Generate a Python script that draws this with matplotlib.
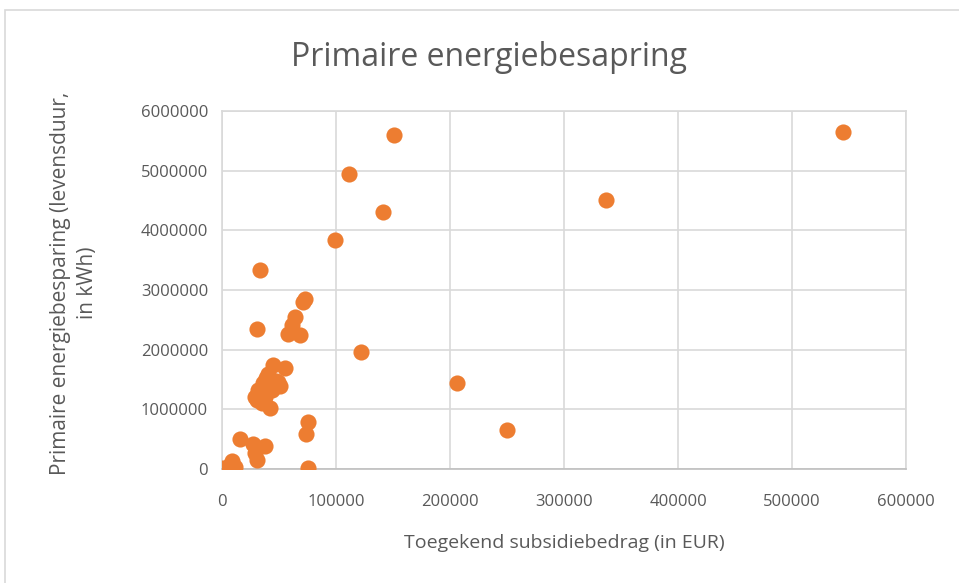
import matplotlib
matplotlib.use('Agg')
import matplotlib.pyplot as plt
from matplotlib.patches import Rectangle

# subsidy (EUR) vs lifetime primary energy saving (kWh)
subsidie = [545000, 151000, 111000, 337000, 141000, 99000, 33000, 73000, 71000,
            64000, 61000, 58000, 68000, 30500, 122000, 206000, 250000,
            45000, 55000, 40500, 49500, 36000, 43500, 32000, 30500, 35000,
            42000, 29000, 37500, 51000, 39000, 47000,
            16000, 27500, 37500, 29000, 30500, 8500, 1200, 7000, 11000,
            75500, 74000, 75500]
besparing = [5640000, 5600000, 4940000, 4510000, 4310000, 3840000, 3330000, 2850000, 2800000,
             2540000, 2410000, 2270000, 2250000, 2340000, 1960000, 1440000, 650000,
             1750000, 1700000, 1600000, 1460000, 1440000, 1320000, 1320000, 1160000, 1100000,
             1020000, 1210000, 1210000, 1390000, 1520000, 1480000,
             500000, 420000, 390000, 260000, 150000, 140000, 10000, 60000, 30000,
             780000, 580000, 10000]

xticks = [0, 100000, 200000, 300000, 400000, 500000, 600000]
yticks = [0, 1000000, 2000000, 3000000, 4000000, 5000000, 6000000]

plt.rcParams['font.family'] = ['Open Sans', 'DejaVu Sans']

fig = plt.figure(figsize=(9.59, 5.83), dpi=100)
fig.patches.append(Rectangle((5/959, -0.05), 1.0, (583-10)/583 + 0.05, transform=fig.transFigure,
                             fill=False, edgecolor='#d9d9d9', linewidth=1.2))

ax = fig.add_axes([222/959, 1-469/583, 684/959, 358/583])
ax.scatter(subsidie, besparing, s=135, color='#ed7d31', zorder=3, linewidths=0)

ax.set_xlim(0, 600000)
ax.set_ylim(0, 6000000)
ax.set_xticks(xticks)
ax.set_yticks(yticks)
ax.set_xticklabels([str(t) for t in xticks])
ax.set_yticklabels([str(t) for t in yticks])
ax.grid(True, color='#d9d9d9', linewidth=1.2)
ax.set_axisbelow(True)
for sp in ax.spines.values():
    sp.set_color('#d9d9d9')
    sp.set_linewidth(1.2)
ax.spines['bottom'].set_color('#bfbfbf')
ax.tick_params(axis='y', length=0, labelsize=12, colors='#595959', pad=10)
ax.tick_params(axis='x', length=0, labelsize=12, colors='#595959', pad=18)

fig.text(489/959, 1-57/583, 'Primaire energiebesapring', fontsize=23, color='#595959',
         ha='center', va='center')
ax.set_xlabel('Toegekend subsidiebedrag (in EUR)', fontsize=14, color='#595959', labelpad=17)
fig.text(74/959, 1-283/583, 'Primaire energiebesparing (levensduur,\nin kWh)', fontsize=15,
         color='#595959', rotation=90, ha='center', va='center', multialignment='center',
         linespacing=1.35)

fig.savefig('out.png', dpi=100)
